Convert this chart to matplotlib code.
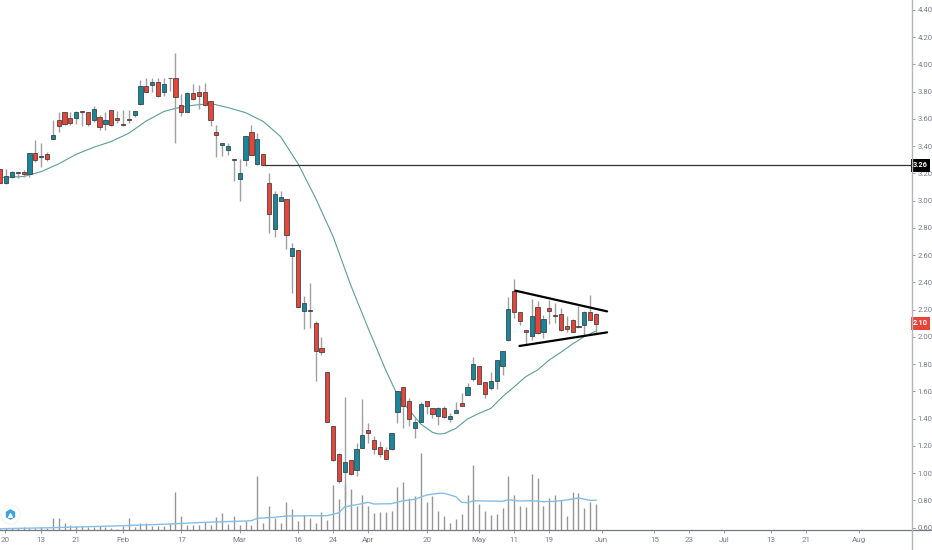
import matplotlib
matplotlib.use('Agg')
import numpy as np
import matplotlib.pyplot as plt
from matplotlib.lines import Line2D

### Daily candles, bar index 0 is the left edge
opens = [3.23, 3.128, 3.177, 3.201, 3.208, 3.196, 3.353, 3.321, 3.341, 3.451,
         3.595, 3.654, 3.605, 3.605, 3.656, 3.654, 3.593, 3.612, 3.561, 3.664,
         3.605, 3.566, 3.602, 3.632, 3.71, 3.842, 3.85, 3.872, 3.801, 3.903,
         3.901, 3.70, 3.654, 3.791, 3.801, 3.801, 3.73, 3.502, 3.411, 3.37,
         3.304, 3.159, 3.301, 3.502, 3.27, 3.341, 3.128, 2.789, 3.0, 3.012,
         2.596, 2.637, 2.19, 2.19, 2.099, 1.916, 1.744, 1.348, 1.137, 1.01,
         1.096, 1.025, 1.186, 1.316, 1.24, 1.194, 1.167, 1.174, 1.446, 1.63,
         1.529, 1.333, 1.375, 1.529, 1.48, 1.421, 1.48, 1.397, 1.441, 1.514,
         1.576, 1.693, 1.786, 1.666, 1.627, 1.678, 1.784, 1.977, 2.334, 2.18,
         2.048, 2.009, 2.222, 2.038, 2.212, 2.161, 2.17, 2.08, 2.121, 2.075,
         2.09, 2.18, 2.17]
highs = [3.23, 3.23, 3.218, 3.213, 3.225, 3.353, 3.446, 3.426, 3.36, 3.593,
         3.654, 3.654, 3.654, 3.659, 3.656, 3.654, 3.695, 3.629, 3.654, 3.664,
         3.661, 3.666, 3.666, 3.661, 3.886, 3.899, 3.903, 3.899, 3.903, 3.903,
         4.082, 3.781, 3.801, 3.855, 3.85, 3.862, 3.73, 3.556, 3.421, 3.421,
         3.304, 3.304, 3.473, 3.556, 3.495, 3.341, 3.201, 3.071, 3.071, 3.012,
         2.691, 2.637, 2.30, 2.398, 2.116, 1.996, 1.744, 1.348, 1.15, 1.556,
         1.096, 1.223, 1.541, 1.365, 1.272, 1.235, 1.194, 1.291, 1.603, 1.63,
         1.549, 1.402, 1.524, 1.529, 1.48, 1.483, 1.492, 1.443, 1.524, 1.59,
         1.659, 1.85, 1.786, 1.671, 1.74, 1.828, 1.896, 2.29, 2.425, 2.18,
         2.048, 2.28, 2.263, 2.161, 2.271, 2.251, 2.214, 2.153, 2.129, 2.229,
         2.192, 2.307, 2.173]
lows = [3.128, 3.125, 3.164, 3.164, 3.172, 3.177, 3.287, 3.25, 3.294, 3.451,
        3.502, 3.556, 3.556, 3.563, 3.549, 3.551, 3.58, 3.519, 3.519, 3.549,
        3.568, 3.549, 3.568, 3.612, 3.703, 3.796, 3.801, 3.764, 3.771, 3.808,
        3.421, 3.624, 3.649, 3.739, 3.673, 3.698, 3.551, 3.319, 3.331, 3.338,
        3.147, 3.0, 3.257, 3.336, 3.262, 3.26, 2.76, 2.735, 3.0, 2.642,
        2.319, 2.217, 2.057, 2.067, 1.678, 1.867, 1.377, 1.091, 0.929, 0.802,
        0.985, 0.978, 1.186, 1.223, 1.137, 1.12, 1.10, 1.169, 1.37, 1.328,
        1.346, 1.255, 1.375, 1.434, 1.402, 1.353, 1.407, 1.377, 1.439, 1.492,
        1.576, 1.678, 1.654, 1.554, 1.61, 1.617, 1.722, 1.972, 2.136, 2.087,
        1.94, 1.977, 2.021, 1.994, 2.095, 2.099, 2.046, 2.033, 2.033, 2.063,
        2.014, 2.124, 2.031]
closes = [3.128, 3.181, 3.208, 3.208, 3.199, 3.353, 3.299, 3.331, 3.309, 3.485,
          3.551, 3.561, 3.573, 3.654, 3.654, 3.563, 3.673, 3.544, 3.593, 3.553,
          3.595, 3.553, 3.593, 3.656, 3.842, 3.801, 3.874, 3.769, 3.855, 3.901,
          3.759, 3.654, 3.791, 3.749, 3.769, 3.70, 3.593, 3.48, 3.421, 3.402,
          3.301, 3.201, 3.473, 3.338, 3.453, 3.26, 2.902, 3.049, 3.029, 2.75,
          2.65, 2.219, 2.251, 2.199, 1.898, 1.886, 1.377, 1.096, 0.944, 1.083,
          0.99, 1.174, 1.279, 1.296, 1.174, 1.142, 1.105, 1.291, 1.603, 1.49,
          1.397, 1.377, 1.51, 1.495, 1.431, 1.475, 1.412, 1.419, 1.466, 1.495,
          1.63, 1.798, 1.654, 1.578, 1.676, 1.828, 1.896, 2.202, 2.18, 2.119,
          2.038, 2.151, 2.026, 2.129, 2.188, 2.151, 2.048, 2.058, 2.038, 2.08,
          2.183, 2.126, 2.097]
volumes = [1, 1.7, 1.7, 1.7, 2.7, 1.7, 2.3, 2.7, 2.3, 12.3,
           12.3, 6.7, 5.3, 4, 4, 3.3, 3.3, 4, 2.7, 2.3,
           1, 4, 12.3, 3.3, 7.3, 6.7, 4, 4, 4.3, 7.3,
           37.7, 14, 5, 5, 5, 7.7, 5, 13.3, 17.3, 6,
           14, 5.3, 9.3, 5, 54, 6.7, 24, 12.3, 6.7, 27.7,
           20.7, 9, 15, 12.3, 7.5, 17.7, 10, 45, 31, 45,
           40.7, 24, 35, 24, 16.7, 18, 18, 19, 42.7, 48.3,
           31.7, 34, 76.7, 28.3, 34, 19, 14, 7.3, 11, 16,
           35, 65, 26, 19.3, 15, 16, 22.3, 54, 35, 24,
           22.7, 55.7, 52, 24, 31.7, 35, 30, 14, 38.3, 36.7,
           21.7, 28.3, 26]

# moving averages, read at every few bars
ma_idx = [0, 4, 7, 10, 13, 16, 19, 22, 25, 28, 30, 33, 36, 39, 42, 45, 48, 51, 54, 57,
          60, 63, 66, 68, 70, 72, 74, 75, 76, 78, 80, 82, 84, 86, 88, 90, 92, 94, 96, 98,
          100, 102]
ma_val = [3.169, 3.177, 3.213, 3.27, 3.34, 3.392, 3.434, 3.495, 3.585, 3.654, 3.678, 3.70,
          3.713, 3.683, 3.646, 3.582, 3.47, 3.27, 3.017, 2.735, 2.38, 2.062, 1.756, 1.573,
          1.463, 1.36, 1.299, 1.287, 1.289, 1.328, 1.397, 1.439, 1.475, 1.561, 1.634, 1.708,
          1.757, 1.83, 1.887, 1.948, 2.002, 2.043]
vol_ma_idx = [0, 9, 21, 29, 35, 42, 43, 44, 47, 49, 54, 56, 58, 59, 61, 63, 64, 67, 69, 71,
              73, 75, 76, 78, 79, 80, 81, 86, 87, 89, 91, 93, 95, 97, 99, 101, 102]
vol_ma_val = [1.3, 2.3, 4.3, 6, 7.7, 9, 9.3, 11.7, 12.7, 14, 14.3, 14.3, 17.3, 23.3, 25.3, 27.7,
              26, 26.3, 29.3, 30.7, 35, 36.7, 36.7, 33.3, 27.7, 27.3, 29.3, 28.7, 30.3, 29,
              29.3, 28.3, 28.7, 30, 32, 29.7, 29.7]

# drawn levels
support_level = 3.26
support_start = 45
top_line_idx = [88.2, 103.9]
top_line_val = [2.339, 2.187]
bottom_line_idx = [88.9, 103.9]
bottom_line_val = [1.933, 2.033]
last_price = 2.10

# axis labels
price_ticks = [4.40, 4.20, 4.00, 3.80, 3.60, 3.40, 3.20, 3.00, 2.80, 2.60, 2.40, 2.20,
               2.00, 1.80, 1.60, 1.40, 1.20, 1.00, 0.80, 0.60]
date_pos = [0.8, 7, 13, 21, 31, 41, 51, 57, 63, 73, 82, 88, 94, 103, 112, 118, 124, 132, 138, 147]
date_labels = ['20', '13', '21', 'Feb', '17', 'Mar', '16', '24', 'Apr', '20', 'May', '11', '19',
               'Jun', '15', '23', 'Jul', '13', '21', 'Aug']

RED = '#e8453a'
TEAL = '#17889c'
DARK = '#3a3a3a'
GREY = '#a0a0a0'
TXT = '#7a7e88'
AXC = '#8a8d94'

opens, highs, lows, closes = [np.array(v) for v in (opens, highs, lows, closes)]
idx = np.arange(len(opens))
W, H = 932, 550

fig = plt.figure(figsize=(W / 100, H / 100), dpi=100, facecolor='white')
plt.rcParams['font.family'] = ['Roboto', 'DejaVu Sans']
ax = fig.add_axes([0, (H - 530) / H, 911.7 / W, 530 / H])
ax.set_xlim(-0.05, 156.06)
ax.set_ylim(0.582, 4.473)

# volume pane shares the frame, one unit is one pixel high
ax2 = ax.twinx()
ax2.set_ylim(0, 530)
ax2.axis('off')
ax2.vlines(idx, 0, volumes, color='#969696', lw=1.0, zorder=1)
ax2.plot(vol_ma_idx, vol_ma_val, color='#84bfe8', lw=1.0, zorder=2)
ax.set_zorder(ax2.get_zorder() + 1)
ax.patch.set_visible(False)

ax.plot(ma_idx, ma_val, color='#5a9f96', lw=0.8, zorder=2)
ax.vlines(idx, lows, highs, color=GREY, lw=1.0, zorder=3)
up = closes >= opens
colors = np.where(up, TEAL, RED)
ax.bar(idx, np.abs(closes - opens), bottom=np.minimum(opens, closes), width=0.72,
       color=colors, edgecolor=DARK, linewidth=0.55, zorder=4)

ax.plot([support_start, 156.06], [support_level, support_level], color='#333333', lw=0.9, zorder=3)
ax.plot(top_line_idx, top_line_val, color='black', lw=1.6, zorder=5, solid_capstyle='round')
ax.plot(bottom_line_idx, bottom_line_val, color='black', lw=1.6, zorder=5, solid_capstyle='round')

ax.yaxis.tick_right()
ax.set_yticks(price_ticks)
ax.set_yticklabels(['%.2f' % p for p in price_ticks])
ax.set_xticks(date_pos)
ax.set_xticklabels(date_labels)
ax.tick_params(axis='y', length=2, width=0.6, color=AXC, labelsize=5.6, labelcolor=TXT, pad=2)
ax.tick_params(axis='x', length=2, width=0.6, color=AXC, labelsize=5.8, labelcolor=TXT, pad=3)
for s in ['top', 'left', 'right', 'bottom']:
    ax.spines[s].set_visible(False)

# axis lines run out to the edge of the picture
fig.add_artist(Line2D([0, 1], [20 / H, 20 / H], color='#77797f', lw=0.9))
fig.add_artist(Line2D([911.7 / W, 911.7 / W], [0, 1], color='#b3b5bb', lw=1.0))

# price boxes on the scale
for val, col in [(support_level, 'black'), (last_price, RED)]:
    ax.annotate('%.2f' % val, xy=(1, val), xycoords=('axes fraction', 'data'),
                xytext=(8.8, 0), textcoords=('offset pixels', 'offset pixels'),
                ha='center', va='center', fontsize=5.4, fontweight='bold', color='white', zorder=10,
                annotation_clip=False,
                bbox=dict(boxstyle='square,pad=0.32', fc=col, ec='none'))

# tradingview badge bottom left
ax.scatter([10 / 911.7], [16 / 530], s=190, marker='o', color='white', edgecolor='#e6f1f8',
           linewidth=0.6, transform=ax.transAxes, zorder=6)
ax.scatter([10 / 911.7], [16 / 530], s=44, marker='h', color='#3ba3e3',
           transform=ax.transAxes, zorder=7)
ax.scatter([10 / 911.7], [15 / 530], s=7, marker='^', color='white',
           transform=ax.transAxes, zorder=8)

fig.savefig('out.png', dpi=100)
